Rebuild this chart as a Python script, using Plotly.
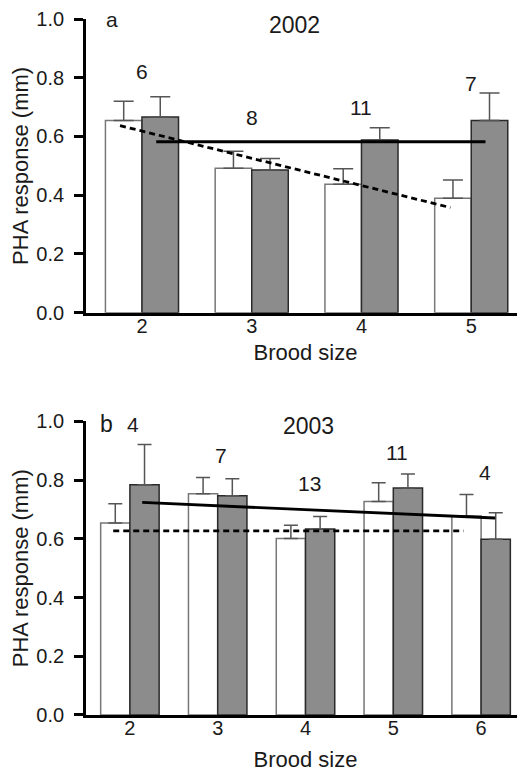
import plotly.graph_objects as go
from plotly.subplots import make_subplots

# ---------- data: 2002 (panel a) ----------
brood_2002 = [2, 3, 4, 5]
white_2002 = [0.654, 0.492, 0.437, 0.390]
white_2002_top = [0.720, 0.550, 0.490, 0.452]
grey_2002 = [0.666, 0.486, 0.588, 0.654]
grey_2002_top = [0.735, 0.525, 0.630, 0.748]
n_2002 = ["6", "8", "11", "7"]
n_2002_y = [0.82, 0.663, 0.70, 0.78]
fit_white_2002_x = [1.80, 4.81]
fit_white_2002_y = [0.637, 0.358]
fit_grey_2002_x = [2.13, 5.13]
fit_grey_2002_y = [0.582, 0.582]

# ---------- data: 2003 (panel b) ----------
brood_2003 = [2, 3, 4, 5, 6]
white_2003 = [0.654, 0.754, 0.601, 0.727, 0.678]
white_2003_top = [0.720, 0.809, 0.646, 0.791, 0.751]
grey_2003 = [0.784, 0.747, 0.634, 0.773, 0.599]
grey_2003_top = [0.921, 0.805, 0.676, 0.821, 0.689]
n_2003 = ["4", "7", "13", "11", "4"]
n_2003_y = [0.99, 0.884, 0.787, 0.893, 0.825]
fit_white_2003_x = [1.81, 5.80]
fit_white_2003_y = [0.627, 0.627]
fit_grey_2003_x = [2.14, 6.16]
fit_grey_2003_y = [0.724, 0.671]

y_ticks = [0.0, 0.2, 0.4, 0.6, 0.8, 1.0]

FONT = "Liberation Sans, Arial, sans-serif"
GREY_FILL = "#8c8c8c"
TXT = "#1a1a1a"

fig = make_subplots(rows=2, cols=1, vertical_spacing=0.0)


def add_panel(row, xs, wv, wt, gv, gt, fwx, fwy, fgx, fgy, cap):
    fig.add_trace(go.Bar(
        x=xs, y=wv, width=0.333, offset=-0.333,
        marker=dict(color="white", line=dict(color="#777777", width=1.5)),
        error_y=dict(type="data", symmetric=False,
                     array=[t - v for t, v in zip(wt, wv)],
                     arrayminus=[0] * len(wv),
                     color="#555555", thickness=1.5, width=cap),
        showlegend=False), row=row, col=1)
    fig.add_trace(go.Bar(
        x=xs, y=gv, width=0.333, offset=0.0,
        marker=dict(color=GREY_FILL, line=dict(color="#2a2a2a", width=1.5)),
        error_y=dict(type="data", symmetric=False,
                     array=[t - v for t, v in zip(gt, gv)],
                     arrayminus=[0] * len(gv),
                     color="#555555", thickness=1.5, width=cap),
        showlegend=False), row=row, col=1)
    fig.add_trace(go.Scatter(
        x=fwx, y=fwy, mode="lines",
        line=dict(color="black", width=2.8, dash="6px,4px"),
        showlegend=False), row=row, col=1)
    fig.add_trace(go.Scatter(
        x=fgx, y=fgy, mode="lines",
        line=dict(color="black", width=2.8),
        showlegend=False), row=row, col=1)


add_panel(1, brood_2002, white_2002, white_2002_top, grey_2002, grey_2002_top,
          fit_white_2002_x, fit_white_2002_y, fit_grey_2002_x, fit_grey_2002_y, 10)
add_panel(2, brood_2003, white_2003, white_2003_top, grey_2003, grey_2003_top,
          fit_white_2003_x, fit_white_2003_y, fit_grey_2003_x, fit_grey_2003_y, 7)

ann = []
for x, t, y in zip(brood_2002, n_2002, n_2002_y):
    ann.append(dict(x=x, y=y, xref="x", yref="y", text=t, showarrow=False,
                    font=dict(size=21, color=TXT, family=FONT)))
for x, t, y in zip(brood_2003, n_2003, n_2003_y):
    ann.append(dict(x=x + 0.04, y=y, xref="x2", yref="y2", text=t, showarrow=False,
                    font=dict(size=21, color=TXT, family=FONT)))
ann.append(dict(x=1.73, y=1.0, xref="x", yref="y", text="a", showarrow=False,
                font=dict(size=21, color=TXT, family=FONT)))
ann.append(dict(x=3.39, y=0.98, xref="x", yref="y", text="2002", showarrow=False,
                font=dict(size=23, color=TXT, family=FONT)))
ann.append(dict(x=1.73, y=0.99, xref="x2", yref="y2", text="b", showarrow=False,
                font=dict(size=23, color=TXT, family=FONT)))
ann.append(dict(x=4.03, y=0.985, xref="x2", yref="y2", text="2003", showarrow=False,
                font=dict(size=23, color=TXT, family=FONT)))

# the page body adds an 8 px margin, so the figure is sized 8 px smaller
fig.update_layout(
    width=517, height=764,
    margin=dict(l=78, r=0, t=8, b=57),
    paper_bgcolor="white", plot_bgcolor="white",
    barmode="overlay",
    font=dict(family=FONT, size=20, color=TXT),
    annotations=ann,
)

common_y = dict(range=[0, 1.0], tickvals=y_ticks, ticktext=[f"{v:.1f}" for v in y_ticks],
                showline=True, linecolor="black", linewidth=2.8,
                ticks="outside", ticklen=9, tickwidth=2.5, tickcolor="black",
                ticklabelstandoff=6,
                showgrid=False, zeroline=False,
                tickfont=dict(size=20, family=FONT, color=TXT),
                title=dict(text="PHA response (mm)", standoff=3,
                           font=dict(size=22, family=FONT, color=TXT)))
common_x = dict(showline=True, linecolor="black", linewidth=2.8,
                ticks="", showgrid=False, zeroline=False,
                ticklabelstandoff=-7,
                tickfont=dict(size=20, family=FONT, color=TXT))

fig.update_layout(
    xaxis=dict(**common_x, range=[1.49, 5.49], tickvals=brood_2002, domain=[0, 1],
               title=dict(text="Brood size", standoff=9,
                          font=dict(size=22, family=FONT, color=TXT))),
    yaxis=dict(**common_y, domain=[0.578, 1.0]),
    xaxis2=dict(**common_x, range=[1.5, 6.5], tickvals=brood_2003, domain=[0, 1],
                title=dict(text="Brood size", standoff=16,
                           font=dict(size=22, family=FONT, color=TXT))),
    yaxis2=dict(**common_y, domain=[0.0, 0.4218]),
)

fig.write_html("out.html")
